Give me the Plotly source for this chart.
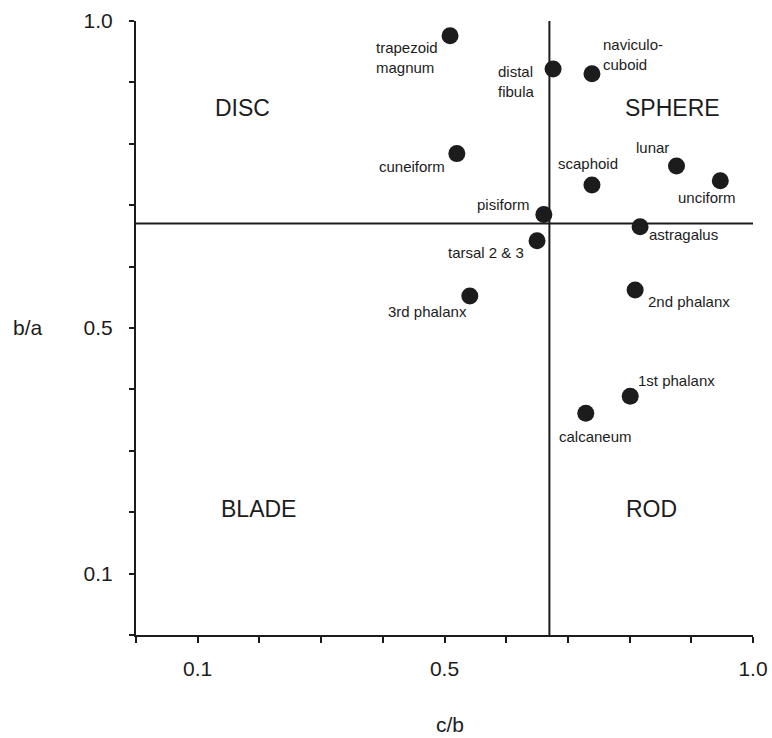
import plotly.graph_objects as go

# Shape ratios of bones: c/b (x) and b/a (y)
bones = ["trapezoid<br>magnum", "distal<br>fibula", "naviculo-<br>cuboid", "cuneiform",
         "scaphoid", "lunar", "unciform", "pisiform", "astragalus", "tarsal 2 & 3",
         "3rd phalanx", "2nd phalanx", "1st phalanx", "calcaneum"]
c_over_b = [0.509, 0.676, 0.739, 0.520, 0.739, 0.876, 0.947, 0.661, 0.817, 0.650,
            0.541, 0.809, 0.801, 0.729]
b_over_a = [0.976, 0.922, 0.914, 0.784, 0.733, 0.764, 0.740, 0.685, 0.665, 0.642,
            0.552, 0.562, 0.389, 0.361]

# Zingg class boundary and class names
boundary = 0.67
classes = ["DISC", "SPHERE", "BLADE", "ROD"]
class_x = [0.172, 0.869, 0.199, 0.835]
class_y = [0.858, 0.858, 0.206, 0.206]

tick_vals = [round(i * 0.1, 1) for i in range(11)]
tick_text = ["", "0.1", "", "", "", "0.5", "", "", "", "", "1.0"]

# label placement: (xanchor, xshift, yshift, align)
label_pos = [("right", -10, -22, "left"), ("right", -16, -13, "left"),
             ("left", 9, 19, "left"), ("right", -10, -13, "left"),
             ("center", -4, 21, "left"), ("right", -5, 18, "left"),
             ("center", -13, -17, "left"), ("right", -12, 10, "left"),
             ("left", 7, -8, "left"), ("right", -11, -12, "left"),
             ("right", -1, -15, "left"), ("left", 11, -12, "left"),
             ("left", 6, 16, "left"), ("center", 10, -23, "left")]

FONT = "Liberation Sans, Arial, Helvetica, sans-serif"
INK = "#1c1c1c"

fig = go.Figure()
fig.add_trace(go.Scatter(
    x=c_over_b, y=b_over_a, mode="markers",
    marker=dict(size=17, color=INK, line=dict(width=0)),
    cliponaxis=False, showlegend=False, hoverinfo="skip"))

for name, x, y, (xa, dx, dy, al) in zip(bones, c_over_b, b_over_a, label_pos):
    fig.add_annotation(x=x, y=y, text=name, showarrow=False, xanchor=xa,
                       yanchor="middle", xshift=dx, yshift=dy, align=al,
                       font=dict(family=FONT, size=15, color=INK))

for name, x, y in zip(classes, class_x, class_y):
    fig.add_annotation(x=x, y=y, text=name, showarrow=False, xanchor="center",
                       yanchor="middle", font=dict(family=FONT, size=23, color=INK))

fig.add_shape(type="line", x0=boundary, x1=boundary, y0=0, y1=1,
              line=dict(color=INK, width=2))
fig.add_shape(type="line", x0=0, x1=1, y0=boundary, y1=boundary,
              line=dict(color=INK, width=2))

fig.add_annotation(xref="paper", yref="paper", x=-0.175, y=0.501, text="b/a",
                   showarrow=False, xanchor="center", yanchor="middle",
                   font=dict(family=FONT, size=21, color=INK))
fig.add_annotation(xref="paper", yref="paper", x=0.509, y=-0.145, text="c/b",
                   showarrow=False, xanchor="center", yanchor="middle",
                   font=dict(family=FONT, size=21, color=INK))

axis_common = dict(range=[0, 1], tickmode="array", tickvals=tick_vals,
                   ticktext=tick_text, showgrid=False, zeroline=False,
                   showline=True, linecolor=INK, linewidth=2, ticks="outside",
                   tickcolor=INK, tickwidth=2, automargin=False,
                   tickfont=dict(family=FONT, size=21, color=INK))
fig.update_xaxes(**axis_common, ticklen=6, ticklabelstandoff=8)
fig.update_yaxes(**axis_common, ticklen=5, ticklabelstandoff=12)

fig.update_layout(width=772, height=738,
                  margin=dict(l=136, r=19, t=21, b=103),
                  paper_bgcolor="white", plot_bgcolor="white")

fig.write_html("out.html")
